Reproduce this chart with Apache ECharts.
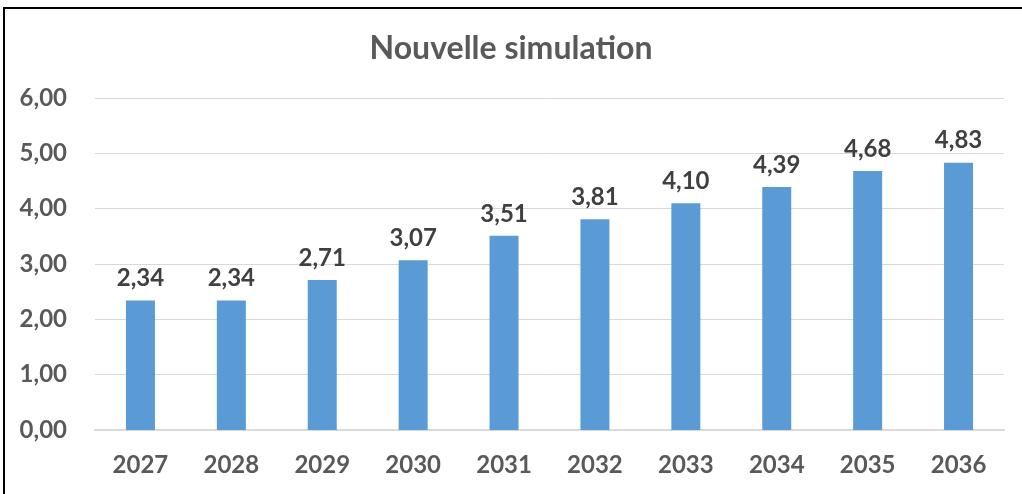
<!DOCTYPE html>
<html>
<head>
<meta charset="utf-8">
<script src="https://cdn.jsdelivr.net/npm/echarts@6/dist/echarts.min.js"></script>
<style>
  html, body { margin: 0; padding: 0; background: #fff; }
  .frame {
    position: absolute; left: 3px; top: 7px; width: 1040px; height: 500px;
    border-left: 2px solid #000; border-top: 2px solid #000;
  }
  #chart { position: absolute; left: 0; top: 0; width: 1022px; height: 494px; }
</style>
</head>
<body>
<div class="frame"></div>
<div id="chart"></div>
<script>
  var years = ['2027', '2028', '2029', '2030', '2031', '2032', '2033', '2034', '2035', '2036']
  var values = [2.34, 2.34, 2.71, 3.07, 3.51, 3.81, 4.10, 4.39, 4.68, 4.83]
  var yMin = 0
  var yMax = 6
  var yStep = 1

  function fr (v) {
    return v.toFixed(2).replace('.', ',')
  }

  var font = 'Lato, "Open Sans", sans-serif'
  var myChart = echarts.init(document.getElementById('chart'))
  myChart.setOption({
    animation: false,
    title: {
      text: 'Nouvelle simulation',
      left: 'center',
      top: 28,
      textStyle: { color: '#595959', fontSize: 32, fontWeight: 'bold', fontFamily: font }
    },
    grid: { left: 95, right: 18, top: 98, bottom: 64 },
    xAxis: {
      type: 'category',
      data: years,
      axisLine: { lineStyle: { color: '#d9d9d9', width: 2 } },
      axisTick: { show: false },
      axisLabel: { color: '#595959', fontSize: 24, fontWeight: 'bold', fontFamily: font, margin: 23 }
    },
    yAxis: {
      type: 'value',
      min: yMin,
      max: yMax,
      interval: yStep,
      axisLine: { show: false },
      axisTick: { show: false },
      splitLine: { lineStyle: { color: '#d9d9d9', width: 1 } },
      axisLabel: { color: '#595959', fontSize: 24, fontWeight: 'bold', fontFamily: font, margin: 28, formatter: fr }
    },
    series: [{
      type: 'bar',
      data: values,
      barWidth: 29,
      itemStyle: { color: '#5b9bd5' },
      label: {
        show: true,
        position: 'top',
        distance: 10,
        color: '#404040',
        fontSize: 24,
        fontWeight: 'bold',
        fontFamily: font,
        formatter: function (p) { return fr(p.value) }
      }
    }]
  })
</script>
</body>
</html>
